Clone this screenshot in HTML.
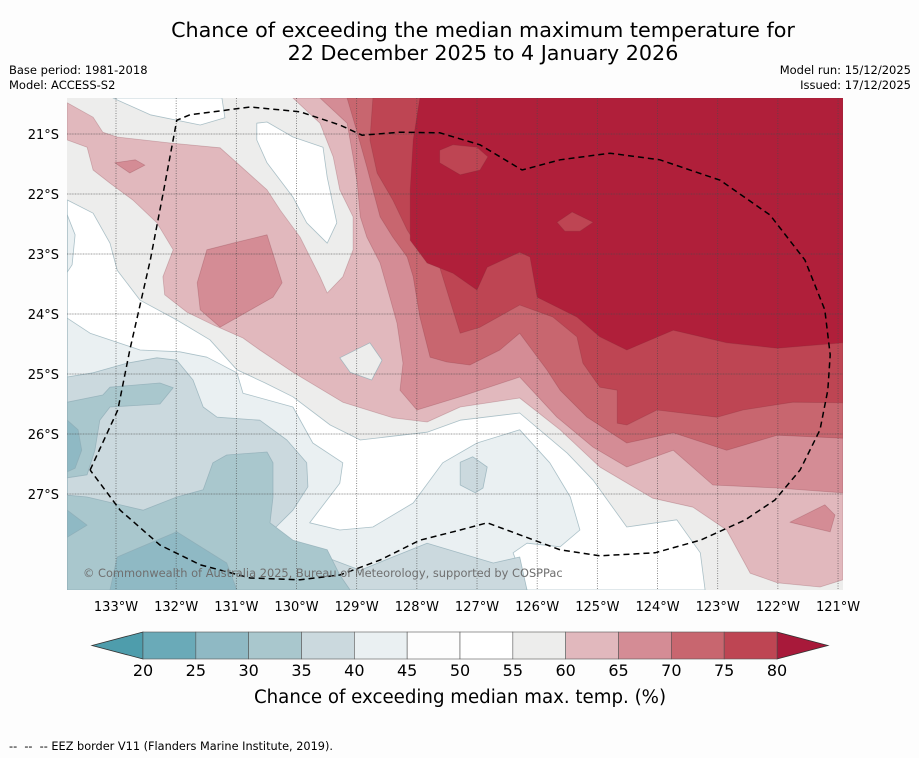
<!DOCTYPE html>
<html><head><meta charset="utf-8">
<style>
html,body{margin:0;padding:0;background:#fdfdfd;}
body{width:919px;height:758px;position:relative;overflow:hidden;font-family:"DejaVu Sans","Liberation Sans",sans-serif;color:#000;}
.t{position:absolute;white-space:nowrap;}
</style></head>
<body>
<div class="t" style="left:0;width:966px;top:19px;text-align:center;font-size:20.7px;line-height:23px;">Chance of exceeding the median maximum temperature for<br>22 December 2025 to 4 January 2026</div>
<div class="t" style="left:9px;top:63px;font-size:11.5px;">Base period: 1981-2018</div>
<div class="t" style="left:9px;top:78px;font-size:11.5px;">Model: ACCESS-S2</div>
<div class="t" style="right:8px;top:63px;font-size:11.5px;text-align:right;">Model run: 15/12/2025</div>
<div class="t" style="right:8px;top:78px;font-size:11.5px;text-align:right;">Issued: 17/12/2025</div>
<div class="t" style="left:9px;top:740px;font-size:11.3px;">--&nbsp; --&nbsp; -- EEZ border V11 (Flanders Marine Institute, 2019).</div>
<svg id="svg" width="919" height="758" style="position:absolute;left:0;top:0;" xmlns="http://www.w3.org/2000/svg">
<defs><clipPath id="mapclip"><rect x="67" y="98" width="776" height="492"/></clipPath></defs>
<g id="map" clip-path="url(#mapclip)"></g>
<g id="axes"></g>
<g id="cbar"></g>
</svg>
<script>
// ---- data ----
const lonTicks=[133,132,131,130,129,128,127,126,125,124,123,122,121];
const latTicks=[21,22,23,24,25,26,27];
const cbarBounds=[20,25,30,35,40,45,50,55,60,65,70,75,80];
const cbarColors=['#6aaab8','#8fb9c4','#a9c7cd','#cbd9de','#eaf0f2','#fdfdfd','#ffffff','#ededec','#e1b8bd','#d48c95','#c8666f','#be4553'];
const lowExtendColor='#4e9dac';
const highExtendColor='#a8193a';
const baseClass=55;
// contour regions: [class lower bound, [[lonW,latS],...]]
const region_white=[50,[[133.81,22.1],[133.38,22.32],[133.1,22.82],[132.98,23.27],[132.6,23.77],[131.99,24.1],[131.44,24.43],[130.99,24.93],[130.52,25.15],[130.06,25.38],[129.44,25.85],[128.94,26.1],[127.83,25.97],[127.28,25.77],[126.29,25.65],[125.5,26.32],[125.07,26.77],[124.51,27.55],[123.68,27.43],[123.29,27.98],[123.21,28.6],[133.81,28.6]]];
const region_whiteTop=[50,[[133.05,20.4],[132.43,20.68],[131.6,20.85],[131.19,20.73],[131.24,20.4]]];
const region_blueLeftSmall=[40,[[133.81,22.35],[133.68,22.68],[133.73,23.18],[133.81,23.3]]];
const region_40=[40,[[133.81,24.07],[133.43,24.32],[132.6,24.6],[131.94,24.63],[131.49,24.72],[130.99,24.98],[130.89,25.32],[130.06,25.55],[129.73,26.15],[129.23,26.48],[129.28,26.82],[129.78,27.48],[129.28,27.6],[128.73,27.55],[128.06,27.15],[127.57,26.48],[127.0,26.15],[126.29,25.93],[125.79,26.48],[125.45,27.05],[125.29,27.6],[125.62,27.88],[126.17,27.82],[126.4,27.98],[126.17,28.6],[133.81,28.6]]];
const region_35=[35,[[133.81,25.05],[133.38,24.98],[132.82,24.82],[132.32,24.73],[131.99,24.77],[131.72,25.1],[131.55,25.55],[131.32,25.72],[130.61,25.77],[130.16,26.1],[129.83,26.48],[129.81,26.88],[130.06,27.27],[130.39,27.6],[130.06,27.88],[129.39,28.1],[128.94,28.27],[128.4,28.05],[127.83,27.82],[126.73,28.15],[126.29,28.05],[126.17,28.6],[133.81,28.6]]];
const region_35blob=[35,[[127.28,26.47],[127.07,26.38],[126.83,26.55],[126.9,26.9],[127.03,26.98],[127.28,26.85]]];
const region_30a=[30,[[133.81,25.47],[133.22,25.35],[133.1,25.22],[132.27,25.15],[132.05,25.23],[132.27,25.5],[133.1,25.55],[133.27,25.77],[133.35,26.27],[133.48,26.68],[133.81,26.73]]];
const region_30b=[30,[[133.81,27.02],[133.48,27.05],[132.55,27.27],[131.99,27.05],[131.55,26.93],[131.39,26.48],[131.16,26.35],[130.49,26.3],[130.39,26.48],[130.39,27.05],[130.44,27.48],[130.06,27.77],[129.49,27.93],[129.28,28.35],[129.11,28.6],[133.81,28.6]]];
const region_25a=[25,[[133.81,25.77],[133.63,25.93],[133.57,26.27],[133.68,26.57],[133.81,26.63]]];
const region_25b=[25,[[133.1,28.6],[132.98,28.05],[131.99,27.63],[131.16,28.15],[130.99,28.6]]];
const region_25c=[25,[[133.81,27.27],[133.48,27.52],[133.81,27.72]]];
const region_60=[60,[[133.81,20.48],[133.38,20.72],[133.22,20.97],[132.98,21.05],[132.1,21.15],[131.27,21.23],[130.99,21.48],[130.49,21.93],[130.27,22.27],[129.94,22.72],[129.61,23.38],[129.49,23.65],[129.23,23.38],[129.06,22.93],[129.06,22.38],[129.28,21.93],[129.39,21.38],[129.61,20.82],[130.06,20.4],[120.92,20.4],[120.92,28.43],[121.3,28.55],[122.01,28.48],[122.46,28.32],[122.85,27.6],[123.41,27.22],[124.08,27.07],[124.96,26.55],[125.62,25.93],[126.29,25.4],[127.28,25.55],[127.83,25.8],[128.4,25.73],[129.23,25.47],[130.06,24.97],[130.61,24.6],[130.89,24.4],[131.39,24.18],[131.82,23.97],[132.19,23.68],[132.22,23.38],[132.05,22.93],[132.32,22.48],[132.72,22.1],[133.1,21.82],[133.38,21.6],[133.48,21.22],[133.81,21.1]]];
const region_whiteBlob=[50,[[130.66,20.82],[130.49,20.8],[130.06,21.05],[129.56,21.22],[129.49,21.72],[129.33,22.48],[129.49,22.82],[129.83,22.48],[130.06,22.05],[130.49,21.48],[130.66,21.1]]];
const region_grayBlob=[55,[[129.28,24.73],[128.78,24.48],[128.58,24.77],[128.75,25.1],[129.11,24.97]]];
const region_65=[65,[[129.61,20.4],[129.16,20.82],[129.06,21.38],[128.99,21.82],[128.94,22.38],[128.83,22.72],[128.61,23.15],[128.45,23.72],[128.33,24.15],[128.23,24.82],[128.28,25.27],[128.0,25.6],[127.28,25.38],[126.29,25.05],[125.67,25.72],[125.07,26.22],[124.51,26.55],[123.74,26.27],[123.08,26.85],[122.01,26.9],[120.92,26.98],[120.92,20.4]]];
const region_65left=[65,[[131.49,22.93],[131.06,22.82],[130.49,22.68],[130.24,23.48],[130.39,23.72],[131.06,24.1],[131.27,24.22],[131.6,23.93],[131.65,23.48]]];
const region_65small=[65,[[133.02,21.48],[132.68,21.43],[132.52,21.52],[132.77,21.65]]];
const region_65se=[65,[[121.8,27.47],[121.22,27.18],[121.05,27.35],[121.13,27.63],[121.47,27.55]]];
const region_70=[70,[[129.16,20.4],[128.99,20.98],[128.83,21.55],[128.73,21.93],[128.61,22.38],[128.4,22.72],[128.16,23.05],[128.06,23.38],[127.95,24.05],[127.78,24.72],[127.5,24.8],[127.12,24.85],[126.62,24.6],[126.29,24.32],[125.84,24.93],[125.62,25.27],[125.17,25.72],[124.51,26.15],[123.74,25.98],[122.85,26.27],[122.01,26.02],[120.92,26.07],[120.92,20.4]]];
const region_75=[75,[[128.73,20.4],[128.78,21.1],[128.66,21.65],[128.4,22.1],[128.16,22.6],[127.95,22.93],[127.62,23.22],[127.45,23.77],[127.28,24.32],[126.95,24.22],[126.29,23.85],[125.74,24.05],[125.34,24.38],[125.24,24.82],[124.96,25.22],[124.67,25.27],[124.67,25.82],[124.51,25.85],[124.01,25.6],[123.01,25.72],[122.58,25.6],[121.75,25.47],[120.92,25.48],[120.92,20.4]]];
const region_80=[80,[[127.95,20.4],[128.06,21.1],[128.11,21.93],[128.11,22.77],[127.83,23.15],[127.4,23.32],[127.0,23.6],[126.83,23.22],[126.29,22.97],[126.12,23.05],[126.0,23.72],[125.34,24.05],[124.96,24.38],[124.51,24.6],[123.74,24.27],[122.85,24.48],[122.01,24.57],[120.92,24.48],[120.92,20.4]]];
const region_75blobA=[75,[[127.62,21.27],[127.4,21.18],[127.0,21.22],[126.82,21.38],[126.95,21.6],[127.28,21.68],[127.62,21.48]]];
const region_75blobB=[75,[[125.67,22.47],[125.42,22.3],[125.07,22.47],[125.29,22.62],[125.54,22.62]]];
const eezLine=[[133.43,26.6],[132.97,25.6],[132.77,24.6],[132.43,23.1],[132.19,21.85],[131.99,20.77],[131.77,20.68],[130.77,20.55],[129.94,20.63],[129.28,20.85],[128.91,21.02],[128.28,20.97],[127.62,20.98],[126.95,21.18],[126.25,21.6],[125.62,21.43],[124.79,21.32],[123.96,21.43],[122.96,21.77],[122.13,22.35],[121.55,23.1],[121.22,23.93],[121.13,24.68],[121.17,25.27],[121.3,25.93],[121.63,26.6],[122.05,27.1],[122.54,27.43],[123.29,27.77],[124.04,27.98],[124.96,28.03],[125.62,27.93],[126.29,27.68],[126.83,27.48],[127.28,27.6],[127.95,27.77],[128.61,28.1],[129.28,28.35],[129.94,28.43],[130.77,28.4],[131.6,28.18],[132.27,27.85],[132.93,27.27],[133.43,26.6]];

// ---- axes ----
const NS='http://www.w3.org/2000/svg';
const FONT='DejaVu Sans, Liberation Sans, sans-serif';
const X=lon=>116+(133-lon)*60.17;
const Y=lat=>134+(lat-21)*60;
const colorFor=c=>cbarColors[cbarBounds.indexOf(c)];
function mk(tag,attrs,parent){const e=document.createElementNS(NS,tag);for(const k in attrs)e.setAttribute(k,attrs[k]);parent.appendChild(e);return e;}
const map=document.getElementById('map');
const axes=document.getElementById('axes');
const cbar=document.getElementById('cbar');

let bg=mk('rect',{x:67,y:98,width:776,height:492,fill:colorFor(baseClass)},map);



const layers=[['white-region',region_white],['white-top',region_whiteTop],['blue-left-small',region_blueLeftSmall],['region-40-45',region_40],['region-35-40',region_35],['region-35-40-blob',region_35blob],['region-30-35-a',region_30a],['region-30-35-b',region_30b],['region-25-30-a',region_25a],['region-25-30-b',region_25b],['region-25-30-c',region_25c],['region-60-65',region_60],['white-blob',region_whiteBlob],['gray-blob',region_grayBlob],['region-65-70',region_65],['region-65-70-left',region_65left],['region-65-70-small',region_65small],['region-65-70-se',region_65se],['region-70-75',region_70],['region-75-80',region_75],['region-above-80',region_80],['region-75-80-blob-a',region_75blobA],['region-75-80-blob-b',region_75blobB]];
layers.forEach(([name,reg])=>{
  const cls=reg[0];
  const fill=cls>=80?'#b01f3a':colorFor(cls);
  const pts=reg[1].map(p=>X(p[0]).toFixed(1)+','+Y(p[1]).toFixed(1)).join(' ');
  const stroke=cls>=60?'rgba(120,40,50,0.25)':'rgba(140,170,180,0.7)';
  const e=mk('polygon',{points:pts,fill:fill,stroke:stroke,'stroke-width':0.8,'stroke-linejoin':'round'},map);
  
  
});

// gridlines
lonTicks.forEach(l=>{
  const g=mk('line',{x1:X(l),x2:X(l),y1:98,y2:590,stroke:'#4a4a4a','stroke-width':0.8,'stroke-dasharray':'1,1.5',opacity:0.8},map);
  
  
});
latTicks.forEach(l=>{
  const g=mk('line',{x1:67,x2:843,y1:Y(l),y2:Y(l),stroke:'#4a4a4a','stroke-width':0.8,'stroke-dasharray':'1,0.6',opacity:0.7},map);
  
  
});
// EEZ
const eez=mk('polyline',{points:eezLine.map(p=>X(p[0]).toFixed(1)+','+Y(p[1]).toFixed(1)).join(' '),fill:'none',stroke:'#000','stroke-width':1.5,'stroke-dasharray':'6,4'},map);


// copyright
const cp=mk('text',{x:83,y:577,'font-size':11.4,fill:'#6f6f6f','font-family':FONT},map);
cp.textContent='© Commonwealth of Australia 2025, Bureau of Meteorology, supported by COSPPac';



// tick labels
lonTicks.forEach(l=>{
  const t=mk('text',{x:X(l),y:611,'text-anchor':'middle','font-size':13,fill:'#000','font-family':FONT},axes);
  t.textContent=l+'°W';
  
  
});
latTicks.forEach(l=>{
  const t=mk('text',{x:59,y:Y(l)+5,'text-anchor':'end','font-size':13,fill:'#000','font-family':FONT},axes);
  t.textContent=l+'°S';
  
  
});

// colorbar
const cx0=143,cx1=777,cy0=632,cy1=659;
const CB=v=>cx0+(v-cbarBounds[0])/(cbarBounds[cbarBounds.length-1]-cbarBounds[0])*(cx1-cx0);
let lt=mk('polygon',{points:`92,${(cy0+cy1)/2} ${cx0},${cy0} ${cx0},${cy1}`,fill:lowExtendColor,stroke:'#333','stroke-width':0.8},cbar);


let rt=mk('polygon',{points:`828,${(cy0+cy1)/2} ${cx1},${cy0} ${cx1},${cy1}`,fill:highExtendColor,stroke:'#333','stroke-width':0.8},cbar);


cbarColors.forEach((c,i)=>{
  const r=mk('rect',{x:CB(cbarBounds[i]),y:cy0,width:CB(cbarBounds[i+1])-CB(cbarBounds[i]),height:cy1-cy0,fill:c,stroke:'#555','stroke-width':0.6},cbar);
  
  
});
cbarBounds.forEach(v=>{
  const t=mk('text',{x:CB(v),y:676,'text-anchor':'middle','font-size':16,fill:'#000','font-family':FONT},cbar);
  t.textContent=v;
  
  
});
const ct=mk('text',{x:460,y:703,'text-anchor':'middle','font-size':18.2,fill:'#000','font-family':FONT},cbar);
ct.textContent='Chance of exceeding median max. temp. (%)';


</script>
</body></html>
